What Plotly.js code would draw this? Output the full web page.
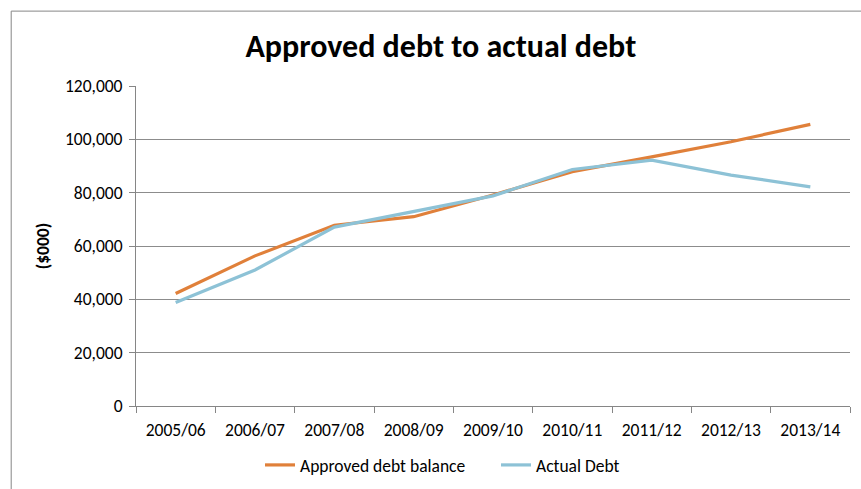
<!DOCTYPE html>
<html>
<head>
<meta charset="utf-8">
<script src="https://cdn.plot.ly/plotly-3.0.1.min.js"></script>
<style>html,body{margin:0;padding:0;background:#fff;}#chart{width:861px;height:489px;}</style>
</head>
<body>
<div id="chart"></div>
<script>
const categories = ["2005/06","2006/07","2007/08","2008/09","2009/10","2010/11","2011/12","2012/13","2013/14"];
const approvedDebt = [42200, 56300, 67800, 71000, 79100, 87900, 93400, 99100, 105600];
const actualDebt = [38800, 51000, 67100, 72800, 78800, 88700, 92200, 86600, 82200];
const yTicks = [0, 20000, 40000, 60000, 80000, 100000, 120000];

const font = "Carlito, 'Liberation Sans Narrow', 'Liberation Sans', Arial, sans-serif";
const traces = [
  {x: categories, y: approvedDebt, name: "Approved debt balance", type: "scatter", mode: "lines",
   line: {color: "#E0803A", width: 3.2}},
  {x: categories, y: actualDebt, name: "Actual Debt", type: "scatter", mode: "lines",
   line: {color: "#8DC2D6", width: 3.2}}
];
const layout = {
  width: 861, height: 489,
  margin: {l: 136, r: 11, t: 86, b: 83},
  paper_bgcolor: "#fff", plot_bgcolor: "#fff",
  font: {family: font, size: 17.5, color: "#000"},
  title: {text: "<b>Approved debt to actual debt</b>", font: {family: font, size: 32, color: "#000"},
          x: 0.512, xanchor: "center", y: 0.907, yanchor: "middle"},
  xaxis: {type: "category", showgrid: false, showline: true, linecolor: "#868686", linewidth: 1,
          ticks: "outside", tickson: "boundaries", ticklen: 6, tickcolor: "#868686",
          tickfont: {size: 17.5}, ticklabelstandoff: 8, range: [-0.5, 8.5], fixedrange: true},
  yaxis: {range: [0, 120000], tickvals: yTicks, tickformat: ",d", showgrid: true, gridcolor: "#8c8c8c",
          gridwidth: 1, showline: true, linecolor: "#868686", ticks: "outside", ticklen: 6,
          tickcolor: "#868686", tickfont: {size: 17.5}, ticklabelstandoff: 3, zeroline: false,
          title: {text: "<b>($000)</b>", font: {size: 17.5}, standoff: 10}},
  legend: {orientation: "h", xref: "container", yref: "container", x: 0.302, xanchor: "left",
           y: 0.049, yanchor: "middle", font: {size: 17.5}, itemwidth: 30, tracegroupgap: 0,
           entrywidth: 191, entrywidthmode: "pixels"},
  showlegend: true,
  shapes: [{type: "rect", xref: "paper", yref: "paper", x0: -0.1748, x1: 1.2, y0: -0.6, y1: 1.234,
            line: {color: "#868686", width: 1}, fillcolor: "rgba(0,0,0,0)", layer: "below"}]
};
Plotly.newPlot("chart", traces, layout, {displayModeBar: false, staticPlot: true});
</script>
</body>
</html>
